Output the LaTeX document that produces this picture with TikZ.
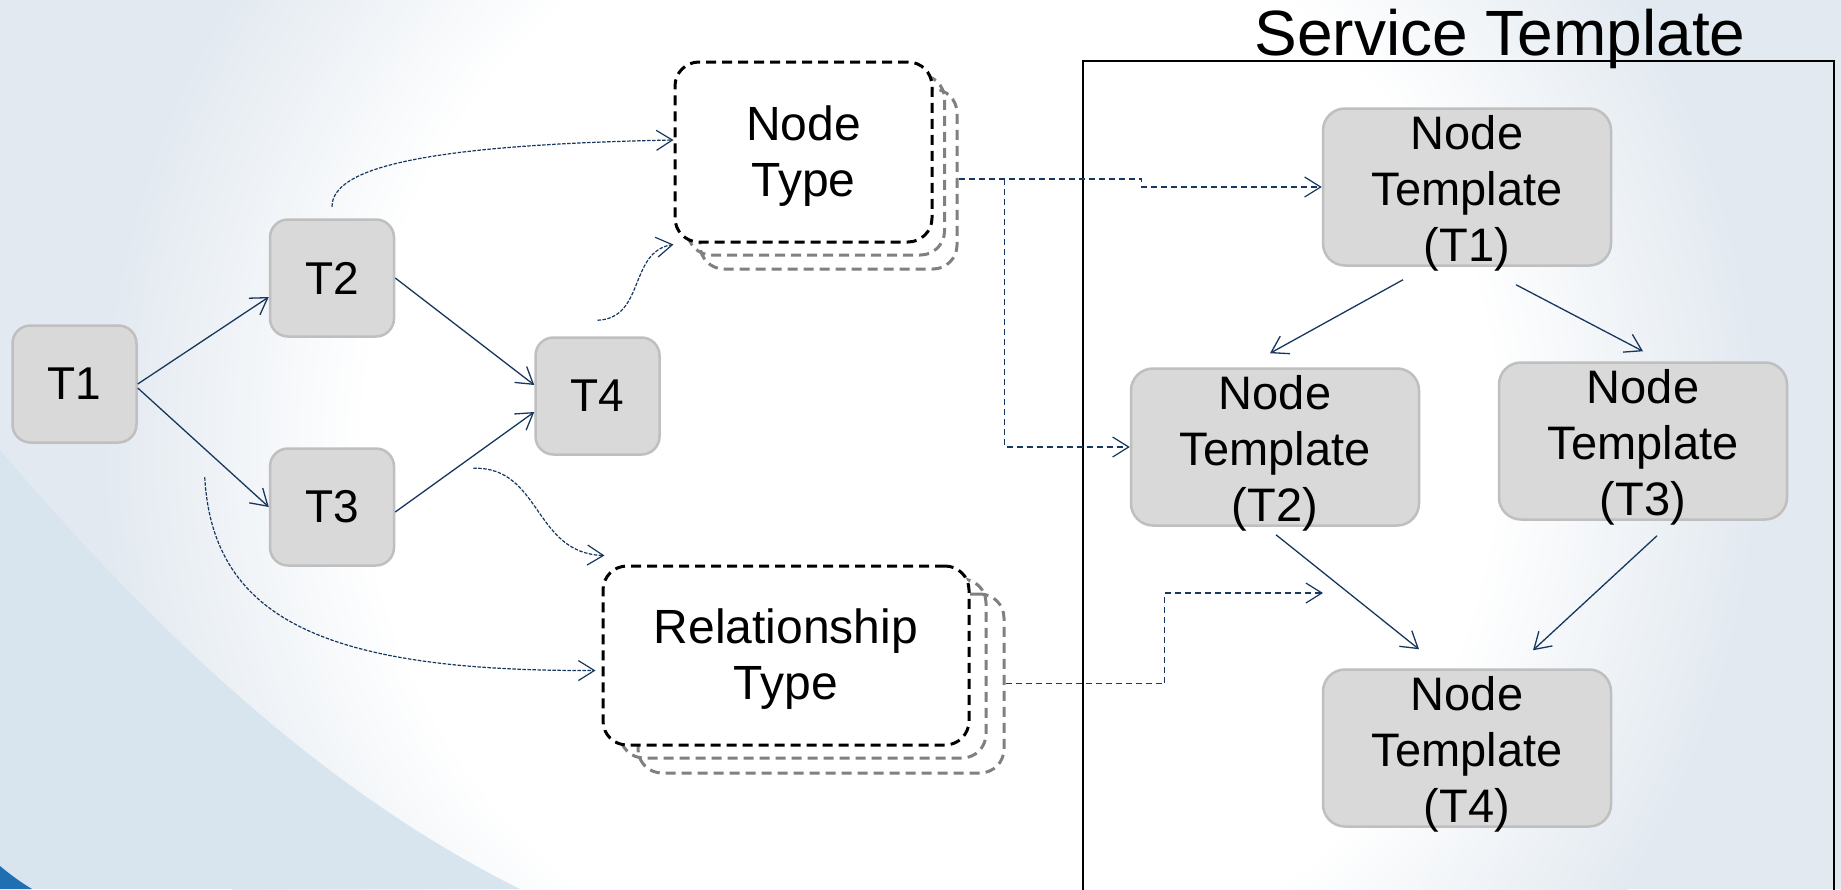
\documentclass[tikz,border=0pt]{standalone}
\usepackage{fontspec}
\setmainfont{Liberation Sans}
\usetikzlibrary{arrows.meta,calc}
\definecolor{bgblue}{HTML}{E2E9F0}
\definecolor{wedgeblue}{HTML}{D8E4EE}
\definecolor{darkblue}{HTML}{1F6FB2}
\definecolor{navy}{HTML}{17375E}
\definecolor{boxfill}{HTML}{D9D9D9}
\definecolor{boxline}{HTML}{BFBFBF}
\definecolor{backgray}{HTML}{808080}
\pgfdeclareradialshading{bgsoft}{\pgfpoint{0bp}{0bp}}{color(0bp)=(white); color(17bp)=(white); color(25bp)=(bgblue); color(50bp)=(bgblue)}
\begin{document}
\begin{tikzpicture}[x=1pt,y=-1pt,
  tbox/.style={draw=boxline, line width=2.5pt, fill=boxfill, rounded corners=18pt,
    minimum width=124pt, minimum height=117pt, inner sep=0pt, align=center,
    font=\fontsize{46}{56}\selectfont},
  ntbox/.style={tbox, rounded corners=22pt, minimum width=288pt, minimum height=157pt},
  nttext/.style={inner sep=0pt, align=center, font=\fontsize{47}{56}\selectfont},
  typebox/.style={draw=black, line width=3pt, dash pattern=on 10pt off 6pt, fill=white,
    rounded corners=24pt, inner sep=0pt},
  typeback/.style={draw=backgray, line width=3pt, dash pattern=on 10pt off 6pt,
    rounded corners=24pt, inner sep=0pt},
  typetext/.style={inner sep=0pt, align=center, font=\fontsize{48}{56}\selectfont},
  arr/.style={draw=navy, line width=1.3pt, -{Straight Barb[length=16pt,width=20pt]}},
  curvearr/.style={arr, line width=1.2pt, dash pattern=on 3.5pt off 1.5pt},
  ortho/.style={arr, line width=1.2pt, dash pattern=on 6pt off 4pt},
]
% background
\useasboundingbox (0,0) rectangle (1841,889);
\fill[bgblue] (0,0) rectangle (1841,889);
\shade[shading=bgsoft] (930,440) circle[radius=830pt];
\fill[wedgeblue] (0,450) .. controls (170,650) and (340,800) .. (520,889) -- (0,889) -- cycle;
\fill[darkblue] (0,866) .. controls (12,876) and (22,883) .. (32,889) -- (0,889) -- cycle;

% service template frame
\draw[line width=2.5pt] (1083,895) -- (1083,61) -- (1834,61) -- (1834,895);
\node[font=\fontsize{64}{76}\selectfont, anchor=base, inner sep=0pt] (title) at (1500,55) {Service Template};

% left graph
\node[tbox] (t1) at (74.5,384) {T1};
\node[tbox] (t2) at (332,278) {T2};
\node[tbox] (t3) at (332,507) {T3};
\node[tbox] (t4) at (597.5,396) {T4};

% node type stack
\node[typeback, minimum width=257pt, minimum height=180pt] (ntb2) at (828.5,179) {};
\node[typeback, minimum width=257pt, minimum height=180pt] (ntb1) at (816,165) {};
\node[typebox, minimum width=257pt, minimum height=180pt] (ntype) at (803.5,152) {};
\node[typetext] (ntypel) at ($(ntype.center)+(0,4)$) {Node\\Type};

% relationship type stack
\node[typeback, minimum width=366pt, minimum height=179pt] (rtb2) at (821,683.5) {};
\node[typeback, minimum width=366pt, minimum height=179pt] (rtb1) at (803,668.5) {};
\node[typebox, minimum width=366pt, minimum height=179pt] (rtype) at (786,655.5) {};
\node[typetext] (rtypel) at ($(rtype.center)+(0,4)$) {Relationship\\Type};

% node templates
\node[ntbox] (nt1) at (1467,187) {};
\node[ntbox] (nt2) at (1275,447) {};
\node[ntbox] (nt3) at (1643,441) {};
\node[ntbox] (nt4) at (1467,748) {};
\node[nttext] (nt1l) at ($(nt1.center)+(0,6)$) {Node\\Template\\(T1)};
\node[nttext] (nt2l) at ($(nt2.center)+(0,6)$) {Node\\Template\\(T2)};
\node[nttext] (nt3l) at ($(nt3.center)+(0,6)$) {Node\\Template\\(T3)};
\node[nttext] (nt4l) at ($(nt4.center)+(0,6)$) {Node\\Template\\(T4)};
\coordinate (rtend) at (1323,593);

% left graph arrows
\draw[arr] (t1.east) -- ($(t2.west)+(0,19)$);
\draw[arr] ($(t1.east)+(0,4)$) -- (t3.west);
\draw[arr] (t2.east) -- ($(t4.west)+(0,-11)$);
\draw[arr] ($(t3.east)+(0,5)$) -- ($(t4.west)+(0,16)$);

% curved dashed arrows
\draw[curvearr] ($(t2.north)+(0,-11.5)$) .. controls +(0,-38) and +(-255,5) .. ($(ntype.west)+(0,-12)$);
\draw[curvearr] ($(t4.north)+(0,-16)$) .. controls +(48,-2) and +(-45,7) .. ($(ntype.south west)+(0,1)$);
\draw[curvearr] ($(t3.north east)+(78,21)$) .. controls +(68,-2) and +(-71,-2) .. ($(rtype.north west)+(3,-9)$);
\draw[curvearr] ($(t1.south east)+(67,33.5)$) .. controls +(8,144) and +(-266,1) .. ($(rtype.west)+(-6,15)$);

% orthogonal dashed connectors
\draw[ortho] (ntb2.east) -- ++(183,0) |- (nt1.west);
\draw[ortho] ($(ntb2.east)+(46,0)$) |- (nt2.west);
\draw[ortho] (rtb2.east) -- ++(159,0) |- (rtend);

% template arrows
\draw[arr] ($(nt1.south)+(-64,13)$) -- ($(nt2.north)+(-5,-14)$);
\draw[arr] ($(nt1.south)+(49,18)$) -- ($(nt3.north)+(0,-10)$);
\draw[arr] ($(nt2.south)+(1,8)$) -- ($(nt4.north)+(-48,-19)$);
\draw[arr] ($(nt3.south)+(14,15)$) -- ($(nt4.north)+(66,-18)$);
\end{tikzpicture}
\end{document}
